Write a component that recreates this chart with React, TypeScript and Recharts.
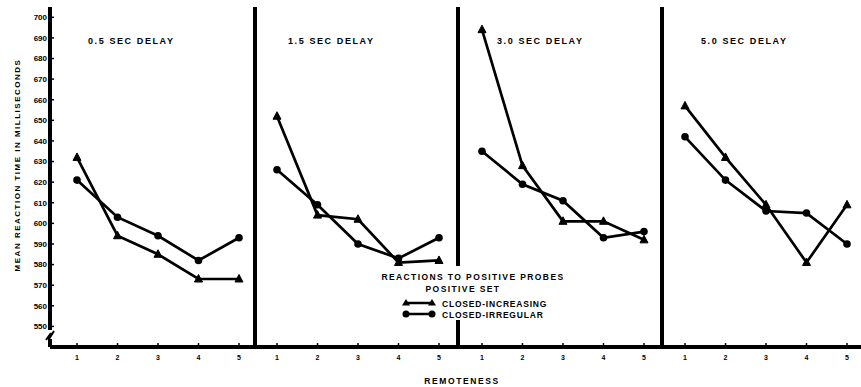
import React from 'react';
import { LineChart, Line, XAxis, YAxis } from 'recharts';

// Remoteness categories (x axis)
const remoteness = [1, 2, 3, 4, 5];
const yTicks = [550, 560, 570, 580, 590, 600, 610, 620, 630, 640, 650, 660, 670, 680, 690, 700];
const delayTitles = ['0.5 SEC DELAY', '1.5 SEC DELAY', '3.0 SEC DELAY', '5.0 SEC DELAY'];

// Closed-increasing (triangles)
const increasing05 = [632, 594, 585, 573, 573];
const increasing15 = [652, 604, 602, 581, 582];
const increasing30 = [694, 628, 601, 601, 592];
const increasing50 = [657, 632, 609, 581, 609];

// Closed-irregular (circles)
const irregular05 = [621, 603, 594, 582, 593];
const irregular15 = [626, 609, 590, 583, 593];
const irregular30 = [635, 619, 611, 593, 596];
const irregular50 = [642, 621, 606, 605, 590];

const increasingSets = [increasing05, increasing15, increasing30, increasing50];
const irregularSets = [irregular05, irregular15, irregular30, irregular50];

// layout
const axisX = [50, 255, 458, 662];
const rightX = [255, 458, 662, 861];
const firstTickOffset = [27, 22, 24, 23];
const titleX = [88, 288, 497, 701];
const PX_PER_UNIT = 40.5;
const FONT = '"Liberation Sans", Arial, sans-serif';

const Triangle = (props: any) => {
  const { cx, cy, index } = props;
  if (cx == null || cy == null) return <g key={index} />;
  return (
    <path
      key={index}
      d={`M${cx},${cy - 4.5} L${cx + 4},${cy + 3} L${cx - 4},${cy + 3} Z`}
      fill="#000"
      stroke="#000"
      strokeWidth={1}
    />
  );
};

const Dot = (props: any) => {
  const { cx, cy, index } = props;
  if (cx == null || cy == null) return <g key={index} />;
  return <circle key={index} cx={cx} cy={cy} r={3.8} fill="#000" />;
};

function Panel({ i }: { i: number }) {
  const data = remoteness.map((r, k) => ({
    r,
    inc: increasingSets[i][k],
    irr: irregularSets[i][k],
  }));
  const first = i === 0;
  const yWidth = first ? 50 : 4;
  const left = first ? 0 : axisX[i] - 4;
  const width = rightX[i] - left;
  const plotW = rightX[i] - axisX[i];
  const d0 = 1 - firstTickOffset[i] / PX_PER_UNIT;
  const d1 = d0 + plotW / PX_PER_UNIT;
  return (
    <div style={{ position: 'absolute', left, top: 0 }}>
      <LineChart width={width} height={387} data={data} margin={{ top: 7, right: 0, bottom: 10, left: 0 }}>
        <XAxis
          dataKey="r"
          type="number"
          domain={[d0, d1]}
          ticks={remoteness}
          allowDataOverflow
          interval={0}
          height={30}
          axisLine={{ stroke: '#000', strokeWidth: 4 }}
          tickLine={{ stroke: '#000', strokeWidth: 1.5 }}
          tickSize={-4}
          tickMargin={12}
          tick={{ fill: '#000', fontSize: 7, fontWeight: 700, fontFamily: FONT }}
        />
        <YAxis
          type="number"
          domain={[540, 705]}
          ticks={yTicks}
          allowDataOverflow
          interval={0}
          width={yWidth}
          axisLine={{ stroke: '#000', strokeWidth: 4 }}
          tickLine={{ stroke: '#000', strokeWidth: 1.5 }}
          tickSize={-4}
          tickMargin={7}
          tick={first ? { fill: '#000', fontSize: 8, fontWeight: 700, fontFamily: FONT } : false}
        />
        <Line
          dataKey="inc"
          stroke="#000"
          strokeWidth={2.7}
          dot={Triangle}
          isAnimationActive={false}
        />
        <Line
          dataKey="irr"
          stroke="#000"
          strokeWidth={2.7}
          dot={Dot}
          isAnimationActive={false}
        />
      </LineChart>
    </div>
  );
}

export default function App() {
  const textStyle = { fontFamily: FONT, fontWeight: 700, fill: '#000' } as const;
  return (
    <div style={{ position: 'absolute', left: 0, top: 0, width: 861, height: 387, background: '#fff' }}>
      {[0, 1, 2, 3].map((i) => (
        <Panel key={i} i={i} />
      ))}
      <svg
        width={861}
        height={387}
        style={{ position: 'absolute', left: 0, top: 0, pointerEvents: 'none' }}
      >
        {delayTitles.map((t, i) => (
          <text key={t} x={titleX[i]} y={44} fontSize={9} letterSpacing={1.6} {...textStyle}>
            {t}
          </text>
        ))}
        <text
          transform="translate(20,165) rotate(-90)"
          textAnchor="middle"
          fontSize={8}
          letterSpacing={1.5}
          {...textStyle}
        >
          MEAN REACTION TIME IN MILLISECONDS
        </text>
        <text x={462} y={384} textAnchor="middle" fontSize={8.5} letterSpacing={1.6} {...textStyle}>
          REMOTENESS
        </text>
        {/* axis break */}
        <rect x={45} y={330} width={10} height={9} fill="#fff" />
        <path d="M46,340 L51,333 L49,339 L54,331" stroke="#000" strokeWidth={2} fill="none" />
        {/* legend */}
        <rect x={376} y={266} width={196} height={54} fill="#fff" />
        <text x={473} y={280} textAnchor="middle" fontSize={8.5} letterSpacing={1.4} {...textStyle}>
          REACTIONS TO POSITIVE PROBES
        </text>
        <text x={463} y={292} textAnchor="middle" fontSize={8.5} letterSpacing={1.4} {...textStyle}>
          POSITIVE SET
        </text>
        <line x1={406} y1={303} x2={432} y2={303} stroke="#000" strokeWidth={2.5} />
        <path d="M406,299 L410,305.5 L402,305.5 Z" fill="#000" />
        <path d="M432,299 L436,305.5 L428,305.5 Z" fill="#000" />
        <text x={442} y={306.5} fontSize={8.5} letterSpacing={0.8} {...textStyle}>
          CLOSED-INCREASING
        </text>
        <line x1={406} y1={314} x2={432} y2={314} stroke="#000" strokeWidth={2.5} />
        <circle cx={406} cy={314} r={3.5} fill="#000" />
        <circle cx={432} cy={314} r={3.5} fill="#000" />
        <text x={442} y={317.5} fontSize={8.5} letterSpacing={0.8} {...textStyle}>
          CLOSED-IRREGULAR
        </text>
      </svg>
    </div>
  );
}
